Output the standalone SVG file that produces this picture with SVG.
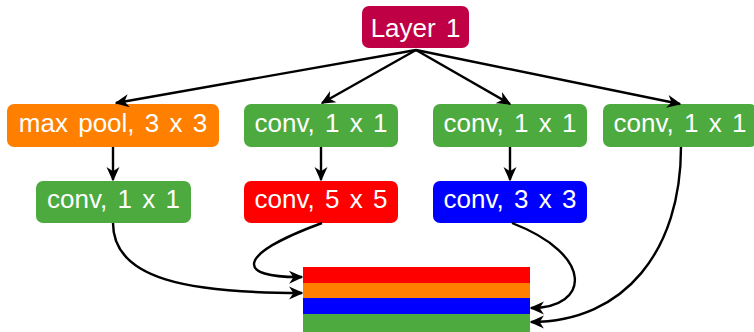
<svg xmlns="http://www.w3.org/2000/svg" width="754" height="332" viewBox="0 0 754 332">
<defs>
<style>
.lbl{font-family:"Liberation Sans","DejaVu Sans",sans-serif;font-size:26px;fill:#fff;text-anchor:middle;word-spacing:3px}
.edge{fill:none;stroke:#000;stroke-width:2.4;marker-end:url(#ah)}
</style>
<marker id="ah" viewBox="0 0 10 10" refX="9" refY="5" markerWidth="6" markerHeight="6" orient="auto" markerUnits="strokeWidth">
<path d="M0,0.5 L10,5 L0,9.5 L3,5 Z" fill="#000"/>
</marker>
</defs>
<rect width="754" height="332" fill="#fff"/>
<g id="layer1"><rect x="362" y="6" width="107" height="42" rx="7" fill="#BF0045"/><text class="lbl" x="415.5" y="37">Layer 1</text></g>
<g id="maxpool"><rect x="7" y="104" width="212" height="43" rx="7" fill="#FF8000"/><text class="lbl" x="113" y="132">max pool, 3 x 3</text></g>
<g id="conv1a"><rect x="244" y="104" width="154" height="43" rx="7" fill="#4CAA3F"/><text class="lbl" x="321" y="132">conv, 1 x 1</text></g>
<g id="conv1b"><rect x="433" y="104" width="154" height="43" rx="7" fill="#4CAA3F"/><text class="lbl" x="510" y="132">conv, 1 x 1</text></g>
<g id="conv1c"><rect x="603" y="104" width="154" height="43" rx="7" fill="#4CAA3F"/><text class="lbl" x="680" y="132">conv, 1 x 1</text></g>
<g id="conv1d"><rect x="36" y="181" width="155" height="42" rx="7" fill="#4CAA3F"/><text class="lbl" x="113.5" y="208">conv, 1 x 1</text></g>
<g id="conv5"><rect x="244" y="181" width="154" height="42" rx="7" fill="#FF0000"/><text class="lbl" x="321" y="208">conv, 5 x 5</text></g>
<g id="conv3"><rect x="433" y="181" width="154" height="42" rx="7" fill="#0000FF"/><text class="lbl" x="510" y="208">conv, 3 x 3</text></g>
<g id="stack">
<rect x="303" y="267" width="227" height="16" fill="#FF0000"/>
<rect x="303" y="283" width="227" height="15" fill="#FF8000"/>
<rect x="303" y="298" width="227" height="16" fill="#0000FF"/>
<rect x="303" y="314" width="227" height="18" fill="#4CAA3F"/>
</g>
<g id="connectors">
<path class="edge" d="M416,50 L116,103"/>
<path class="edge" d="M416,50 L322,103"/>
<path class="edge" d="M416,50 L510,104"/>
<path class="edge" d="M416,50 L680,104"/>
<path class="edge" d="M113,147 L113,180"/>
<path class="edge" d="M321,147 L321,180"/>
<path class="edge" d="M510,147 L510,180"/>
<path class="edge" d="M113,223 C113,280 190,293 302,293"/>
<path class="edge" d="M322,223 C235,255 235,278 302,277"/>
<path class="edge" d="M512,223 C595,255 590,308 531,308"/>
<path class="edge" d="M681,147 C681,250 625,322 531,322"/>
</g>
</svg>
